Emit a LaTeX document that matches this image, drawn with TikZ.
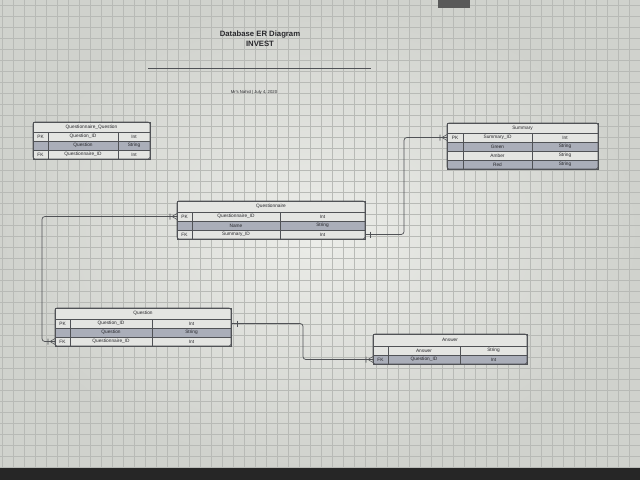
\documentclass[tikz,border=0pt]{standalone}
\usepackage{fontspec}
\newfontfamily\ersans{Liberation Sans}
\usetikzlibrary{positioning}
\definecolor{deskbg}{RGB}{208,210,205}
\definecolor{deskmid}{RGB}{236,237,233}
\definecolor{gridln}{RGB}{184,186,182}
\definecolor{cellbg}{RGB}{228,229,226}
\definecolor{rowbg}{RGB}{170,174,185}
\definecolor{lineclr}{RGB}{80,82,86}
\definecolor{inkclr}{RGB}{40,40,44}
\tikzset{
  cell/.style={draw=lineclr, line width=0.3pt, anchor=north west, inner sep=0pt, outer sep=0pt,
    minimum height=2.25mm, text=inkclr, font=\ersans\fontsize{3.4}{4}\selectfont},
  rowplain/.style={fill=cellbg},
  rowshade/.style={fill=rowbg},
  tabletitle/.style={cell, fill=cellbg},
  tablebox/.style={draw=lineclr, line width=0.5pt, rounded corners=1.5pt},
  relation/.style={draw=lineclr, line width=0.5pt, rounded corners=2pt},
  crowfoot/.pic={\draw[lineclr, line width=0.4pt] (-5,0) -- (0,-3) (-5,0) -- (0,3) (-7,-3) -- (-7,3);},
  onebar/.pic={\draw[lineclr, line width=0.4pt] (0,-3) -- (0,3);}
}
\begin{document}
\begin{tikzpicture}[x=0.25mm, y=-0.25mm]
  \useasboundingbox (0,0) rectangle (640,480);
  % desk and grid
  \shade[inner color=deskmid, outer color=deskbg] (0,0) rectangle (640,468);
  \foreach \gx in {2,13,...,640}
    \draw[gridln, line width=0.3pt] (\gx,0) -- (\gx,468);
  \foreach \gy in {5,16,...,468}
    \draw[gridln, line width=0.3pt] (0,\gy) -- (640,\gy);
  \fill[black!85] (0,468) rectangle (640,480);
  \fill[black!65] (438,0) rectangle (470,8);

  % heading
  \node[font=\ersans\bfseries\fontsize{5.5}{6}\selectfont, text=inkclr] (head) at (260,35) {Database ER Diagram};
  \node[font=\ersans\bfseries\fontsize{5.5}{6}\selectfont, text=inkclr] (proj) at (260,44) {INVEST};
  \coordinate (rulel) at (148,68);
  \coordinate (ruler) at (371,68);
  \draw[lineclr, line width=0.5pt] (rulel) -- (ruler);
  \node[font=\ersans\fontsize{3}{4}\selectfont, text=inkclr] (byline) at (254,92) {Mr's Nahid | July 4, 2020};

  % Questionnaire_Question
  \node[tabletitle, minimum width=29.25mm, minimum height=2.5mm] (qq-t) at (33,122) {Questionnaire\_Question};
  \foreach \ky/\nm/\ty/\st [count=\i] in {PK/Question\_ID/Int/rowplain, /Question/String/rowshade, FK/Questionnaire\_ID/Int/rowplain}{
    \node[cell, \st, minimum width=3.75mm] (qq-\i k) at (33,{132+9*(\i-1)}) {\ky};
    \node[cell, \st, minimum width=17.5mm] (qq-\i n) at (qq-\i k.north east) {\nm};
    \node[cell, \st, minimum width=8mm] (qq-\i t) at (qq-\i n.north east) {\ty};
  }
  \draw[tablebox] (qq-t.north west) rectangle (qq-3t.south east);

  % Summary
  \node[tabletitle, minimum width=37.75mm, minimum height=2.5mm] (sm-t) at (447,123) {Summary};
  \foreach \ky/\nm/\ty/\st [count=\i] in {PK/Summary\_ID/Int/rowplain, /Green/String/rowshade, /Amber/String/rowplain, /Red/String/rowshade}{
    \node[cell, \st, minimum width=4mm] (sm-\i k) at (447,{133+9*(\i-1)}) {\ky};
    \node[cell, \st, minimum width=17.25mm] (sm-\i n) at (sm-\i k.north east) {\nm};
    \node[cell, \st, minimum width=16.5mm] (sm-\i t) at (sm-\i n.north east) {\ty};
  }
  \draw[tablebox] (sm-t.north west) rectangle (sm-4t.south east);

  % Questionnaire
  \node[tabletitle, minimum width=47mm, minimum height=2.75mm] (qn-t) at (177,201) {Questionnaire};
  \foreach \ky/\nm/\ty/\st [count=\i] in {PK/Questionnaire\_ID/Int/rowplain, /Name/String/rowshade, FK/Summary\_ID/Int/rowplain}{
    \node[cell, \st, minimum width=3.75mm] (qn-\i k) at (177,{212+9*(\i-1)}) {\ky};
    \node[cell, \st, minimum width=22mm] (qn-\i n) at (qn-\i k.north east) {\nm};
    \node[cell, \st, minimum width=21.25mm] (qn-\i t) at (qn-\i n.north east) {\ty};
  }
  \draw[tablebox] (qn-t.north west) rectangle (qn-3t.south east);

  % Question
  \node[tabletitle, minimum width=44mm, minimum height=2.75mm] (qs-t) at (55,308) {Question};
  \foreach \ky/\nm/\ty/\st [count=\i] in {PK/Question\_ID/Int/rowplain, /Question/String/rowshade, FK/Questionnaire\_ID/Int/rowplain}{
    \node[cell, \st, minimum width=3.75mm] (qs-\i k) at (55,{319+9*(\i-1)}) {\ky};
    \node[cell, \st, minimum width=20.5mm] (qs-\i n) at (qs-\i k.north east) {\nm};
    \node[cell, \st, minimum width=19.75mm] (qs-\i t) at (qs-\i n.north east) {\ty};
  }
  \draw[tablebox] (qs-t.north west) rectangle (qs-3t.south east);

  % Answer
  \node[tabletitle, minimum width=38.5mm, minimum height=3mm] (an-t) at (373,334) {Answer};
  \foreach \ky/\nm/\ty/\st [count=\i] in {/Answer/String/rowplain, FK/Question\_ID/Int/rowshade}{
    \node[cell, \st, minimum width=3.75mm] (an-\i k) at (373,{346+9*(\i-1)}) {\ky};
    \node[cell, \st, minimum width=18mm] (an-\i n) at (an-\i k.north east) {\nm};
    \node[cell, \st, minimum width=16.75mm] (an-\i t) at (an-\i n.north east) {\ty};
  }
  \draw[tablebox] (an-t.north west) rectangle (an-2t.south east);

  % relations
  \coordinate (bend1) at (404,190);
  \coordinate (bend2) at (42,280);
  \coordinate (bend3) at (303,340);
  \path[relation] (qn-3t.east) -| (bend1) |- (sm-1k.west);
  \path[relation] (qn-1k.west) -| (bend2) |- (qs-3k.west);
  \path[relation] (qs-1t.east) -| (bend3) |- (an-2k.west);
  \pic at (sm-1k.west) {crowfoot};
  \pic at (qn-1k.west) {crowfoot};
  \pic at (qs-3k.west) {crowfoot};
  \pic at (an-2k.west) {crowfoot};
  \pic at ([xshift=1.25mm]qn-3t.east) {onebar};
  \pic at ([xshift=1.5mm]qs-1t.east) {onebar};
\end{tikzpicture}
\end{document}
